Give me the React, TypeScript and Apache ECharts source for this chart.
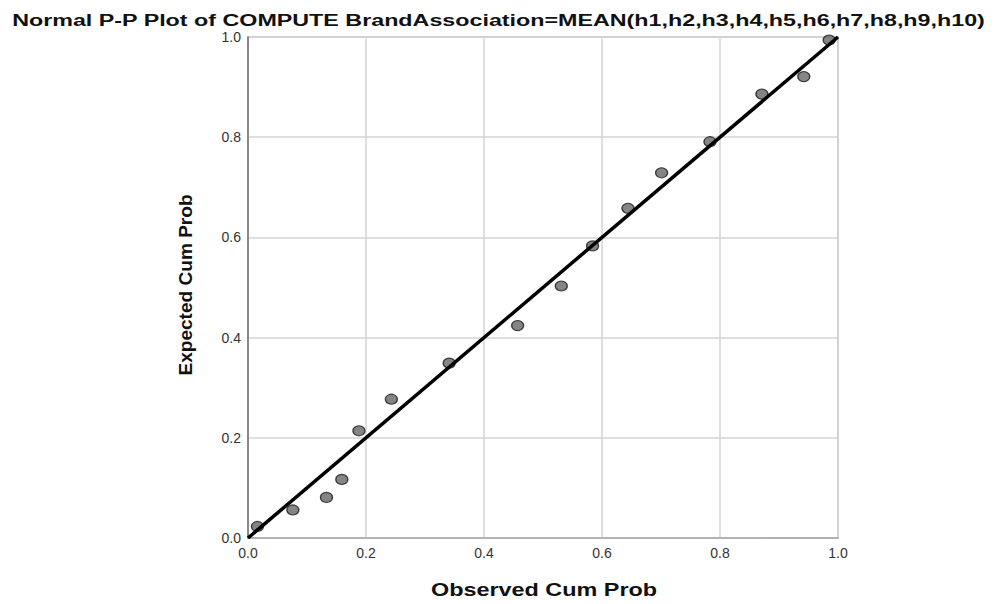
import React, { useEffect, useRef } from "react";
import * as echarts from "echarts";

const observedCumProb = [0.016, 0.076, 0.133, 0.159, 0.188, 0.243, 0.341, 0.457, 0.531, 0.584, 0.644, 0.701, 0.783, 0.871, 0.942, 0.985];
const expectedCumProb = [0.023, 0.056, 0.081, 0.117, 0.214, 0.277, 0.349, 0.424, 0.503, 0.583, 0.658, 0.729, 0.791, 0.886, 0.921, 0.994];
const referenceLine = [[0, 0], [1, 1]];
const titleText = "Normal P-P Plot of COMPUTE BrandAssociation=MEAN(h1,h2,h3,h4,h5,h6,h7,h8,h9,h10)";
const xName = "Observed Cum Prob";
const yName = "Expected Cum Prob";

export default function App() {
  const ref = useRef<HTMLDivElement>(null);
  useEffect(() => {
    document.body.style.margin = "0";
    const chart = echarts.init(ref.current!, null, { renderer: "svg" });
    const font = "Arial, 'Liberation Sans', sans-serif";
    chart.setOption({
      animation: false,
      backgroundColor: "#ffffff",
      graphic: [
        {
          type: "text",
          x: 498.5,
          y: 20,
          scaleX: 1.37,
          style: { text: titleText, fontFamily: font, fontSize: 17, fontWeight: "bold", fill: "#111", align: "center", verticalAlign: "middle" },
        },
        {
          type: "text",
          x: 544,
          y: 590,
          scaleX: 1.3,
          style: { text: xName, fontFamily: font, fontSize: 18, fontWeight: "bold", fill: "#111", align: "center", verticalAlign: "middle" },
        },
        {
          type: "text",
          x: 186,
          y: 285,
          rotation: Math.PI / 2,
          scaleX: 1.06,
          style: { text: yName, fontFamily: font, fontSize: 18, fontWeight: "bold", fill: "#111", align: "center", verticalAlign: "middle" },
        },
      ],
      grid: { left: 248, top: 37, width: 590, height: 501, show: true, borderColor: "#b8b8b8", borderWidth: 1.5, backgroundColor: "transparent" },
      xAxis: {
        type: "value",
        min: 0,
        max: 1,
        interval: 0.2,
        axisLine: { show: true, onZero: false, lineStyle: { color: "#a8a8a8", width: 1.5 } },
        axisTick: { show: false },
        axisLabel: { fontFamily: font, fontSize: 14, color: "#333", margin: 8, formatter: (v: number) => v.toFixed(1) },
        splitLine: { show: true, lineStyle: { color: "#d4d4d4", width: 1.5 } },
      },
      yAxis: {
        type: "value",
        min: 0,
        max: 1,
        interval: 0.2,
        axisLine: { show: true, onZero: false, lineStyle: { color: "#707070", width: 1.5 } },
        axisTick: { show: false },
        axisLabel: { fontFamily: font, fontSize: 14, color: "#333", margin: 7, formatter: (v: number) => v.toFixed(1) },
        splitLine: { show: true, lineStyle: { color: "#d4d4d4", width: 1.5 } },
      },
      series: [
        {
          type: "scatter",
          data: observedCumProb.map((x, i) => [x, expectedCumProb[i]]),
          symbol: "circle",
          symbolSize: [12, 10],
          itemStyle: { color: "#666666", borderColor: "#1a1a1a", borderWidth: 1.2 },
          z: 2,
        },
        {
          type: "line",
          data: referenceLine,
          symbol: "none",
          lineStyle: { color: "#000", width: 3.5 },
          z: 3,
        },
      ],
    });
    return () => chart.dispose();
  }, []);
  return <div ref={ref} style={{ width: 997, height: 604 }} />;
}
